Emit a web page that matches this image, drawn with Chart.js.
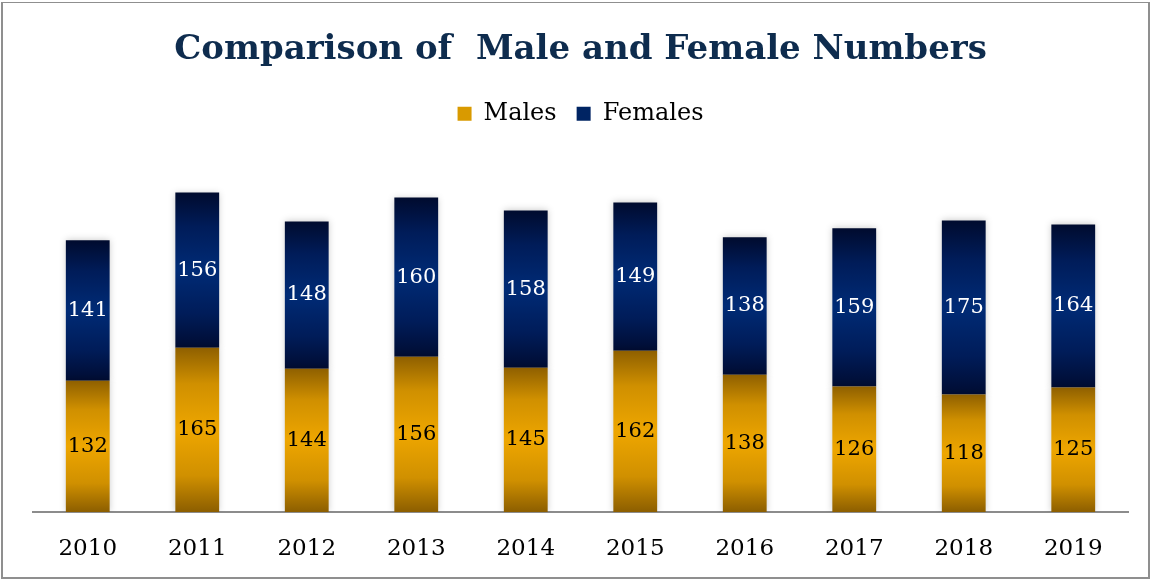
<!DOCTYPE html>
<html>
<head>
<meta charset="utf-8">
<script src="https://cdn.jsdelivr.net/npm/chart.js@4"></script>
<style>
html, body { margin: 0; padding: 0; background: #fff; }
#box { position: absolute; left: 1px; top: 2px; width: 1149px; height: 577px; border: 2px solid #8f8f8f; border-top-width: 1px; box-sizing: border-box; }
canvas { display: block; }
</style>
</head>
<body>
<div id="box"><canvas id="genderChart" width="1145" height="574"></canvas></div>
<script>
// values
const years = ["2010", "2011", "2012", "2013", "2014", "2015", "2016", "2017", "2018", "2019"];
const males = [132, 165, 144, 156, 145, 162, 138, 126, 118, 125];
const females = [141, 156, 148, 160, 158, 149, 138, 159, 175, 164];

const SERIF = "'DejaVu Serif', 'Liberation Serif', serif";
const goldStops = ["#8f6000", "#d09000", "#eea600", "#d09000", "#8c5e00"];
const navyStops = ["#000b2e", "#001c59", "#002b76", "#001c59", "#000c32"];

function segGradient(c, stops) {
    const chart = c.chart;
    if (!chart.chartArea || c.dataIndex === undefined) return stops[2];
    const y = chart.scales.y;
    const i = c.dataIndex;
    let lo = 0, hi = males[i];
    if (c.datasetIndex === 1) { lo = males[i]; hi = males[i] + females[i]; }
    const top = y.getPixelForValue(hi);
    const bottom = y.getPixelForValue(lo);
    const g = chart.ctx.createLinearGradient(0, top, 0, bottom);
    g.addColorStop(0, stops[0]);
    g.addColorStop(0.22, stops[1]);
    g.addColorStop(0.5, stops[2]);
    g.addColorStop(0.78, stops[3]);
    g.addColorStop(1, stops[4]);
    return g;
}

// soft glow behind bars + value labels in the middle of each segment
const barDecor = {
    id: "barDecor",
    beforeDatasetsDraw(chart) {
        const ctx = chart.ctx;
        ctx.save();
        ctx.shadowColor = "rgba(0,0,0,0.22)";
        ctx.shadowBlur = 7;
    },
    afterDatasetsDraw(chart) {
        const ctx = chart.ctx;
        ctx.restore();
        ctx.save();
        ctx.font = "21px " + SERIF;
        ctx.textAlign = "center";
        ctx.textBaseline = "middle";
        chart.data.datasets.forEach((ds, di) => {
            const meta = chart.getDatasetMeta(di);
            ctx.fillStyle = di === 0 ? "#000000" : "#ffffff";
            meta.data.forEach((el, i) => {
                ctx.fillText(String(ds.data[i]), el.x, (el.y + el.base) / 2);
            });
        });
        ctx.restore();
    }
};

new Chart(document.getElementById("genderChart"), {
    type: "bar",
    data: {
        labels: years,
        datasets: [
            {
                label: "Males",
                data: males,
                backgroundColor: (c) => segGradient(c, goldStops),
                barPercentage: 0.8,
                categoryPercentage: 0.5,
            },
            {
                label: "Females",
                data: females,
                backgroundColor: (c) => segGradient(c, navyStops),
                barPercentage: 0.8,
                categoryPercentage: 0.5,
            },
        ],
    },
    options: {
        responsive: false,
        animation: false,
        layout: { padding: { left: 30, right: 20, top: 0, bottom: 0 } },
        plugins: {
            title: {
                display: true,
                text: "Comparison of  Male and Female Numbers",
                color: "#0e2c4e",
                font: { family: SERIF, size: 34, weight: "bold" },
                padding: { top: 27, bottom: 11 },
            },
            legend: {
                display: true,
                labels: {
                    color: "#000000",
                    font: { family: SERIF, size: 24 },
                    boxWidth: 14,
                    boxHeight: 14,
                    padding: 20,
                    generateLabels(chart) {
                        return [
                            { text: "Males", fillStyle: "#d99a00", strokeStyle: "#d99a00", lineWidth: 0, datasetIndex: 0 },
                            { text: "Females", fillStyle: "#002463", strokeStyle: "#002463", lineWidth: 0, datasetIndex: 1 },
                        ];
                    },
                },
            },
            tooltip: { enabled: false },
        },
        scales: {
            x: {
                stacked: true,
                grid: { display: false, drawTicks: false },
                border: { display: true, color: "#8c8c8c", width: 2 },
                ticks: { color: "#000000", font: { family: SERIF, size: 23, lineHeight: 1.0 }, padding: 26 },
                afterFit(scale) {
                    scale.height = 65;
                },
            },
            y: {
                stacked: true,
                display: false,
                min: 0,
                max: 378,
            },
        },
    },
    plugins: [barDecor],
});
</script>
</body>
</html>
